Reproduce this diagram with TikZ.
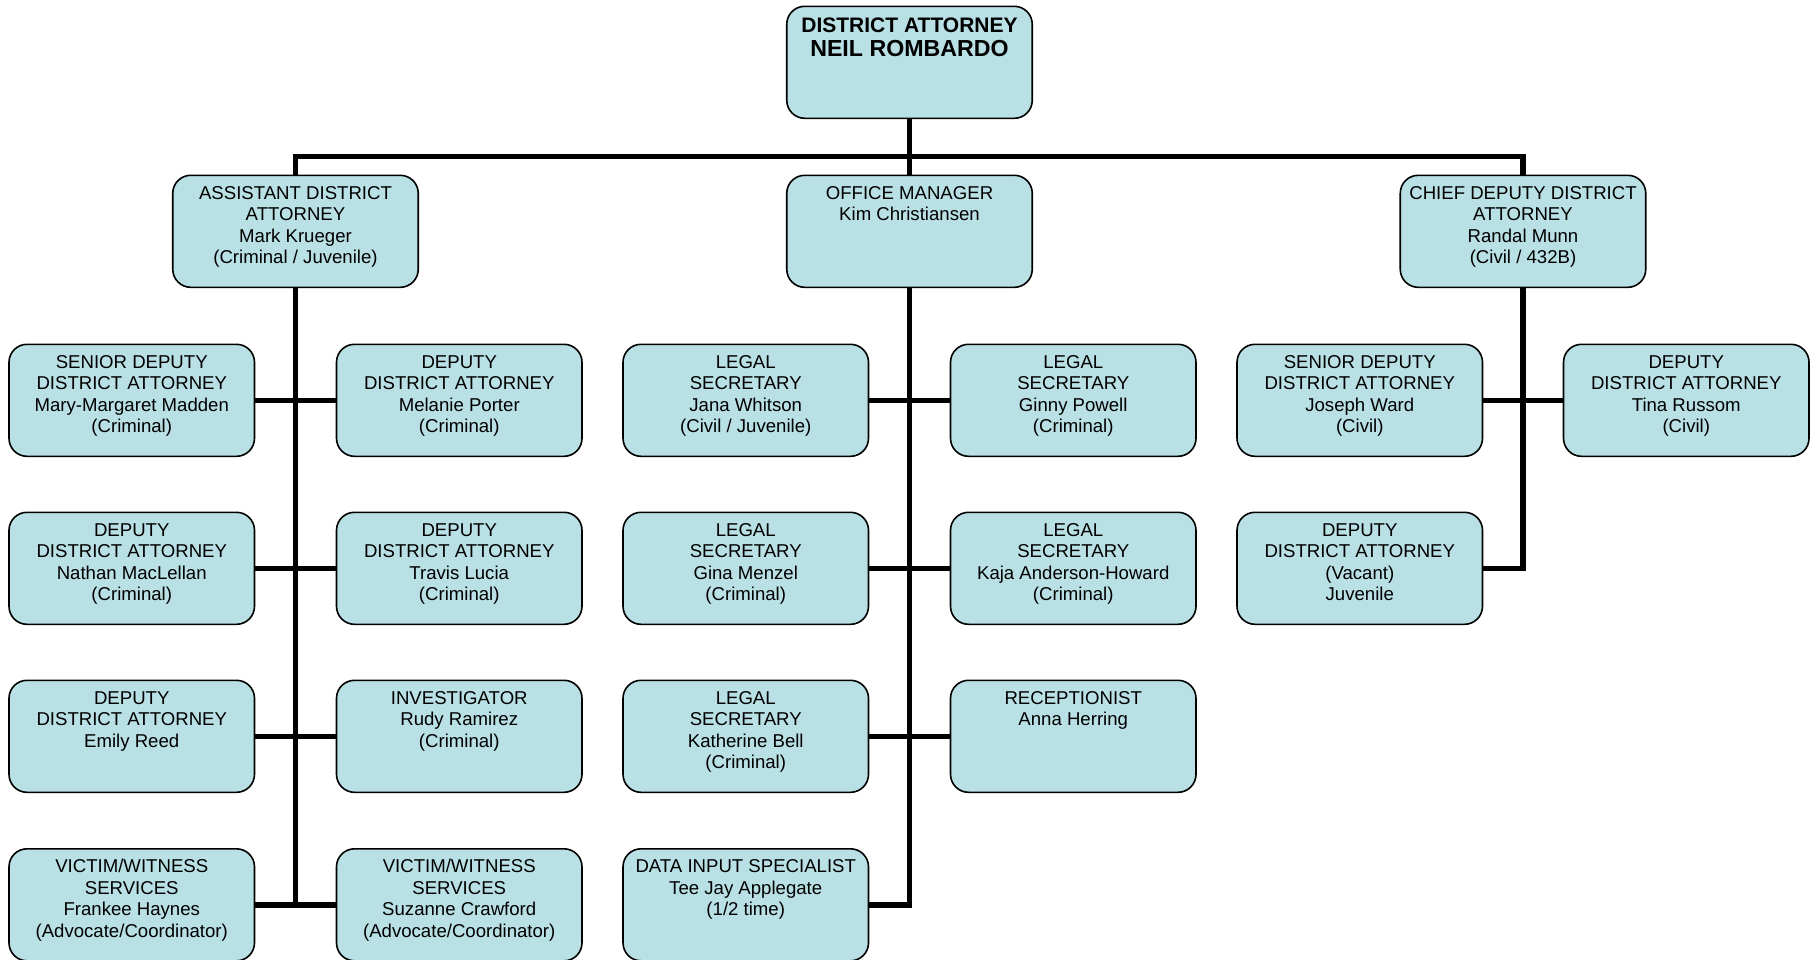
\documentclass[tikz,border=0pt]{standalone}
\usepackage{fontspec}
\setmainfont{Liberation Sans}
\usepackage{tikz}
\usetikzlibrary{positioning}
\definecolor{boxblue}{RGB}{185, 224, 228}

% top-aligned text inside a fixed-size box
\newcommand{\boxlines}[1]{\parbox[c][56pt][t]{122.75pt}{\centering\rule{0pt}{12pt}#1\par}}

\begin{document}
\begin{tikzpicture}[x=0.5pt, y=-0.5pt,
  staffbox/.style={draw=black, line width=0.8pt, fill=boxblue, rounded corners=9pt, inner sep=0pt, anchor=north,
    minimum width=122.75pt, minimum height=56pt, font=\fontsize{9.3}{10.75}\selectfont},
  link/.style={draw=black, line width=2.8pt, line join=miter}]

  \useasboundingbox (0,0) rectangle (1818,959);

  % District attorney and the three heads
  \node[staffbox] (da) at (909.5,5.5) {\parbox[c][56pt][t]{122.75pt}{\centering\bfseries
    \fontsize{10.5}{11.7}\selectfont\rule{0pt}{13.3pt}DISTRICT ATTORNEY\\
    \fontsize{11.6}{11.7}\selectfont NEIL ROMBARDO\par}};

  \node[staffbox] (ada) at (295.5,174.5) {\boxlines{ASSISTANT DISTRICT\\ATTORNEY\\Mark Krueger\\(Criminal / Juvenile)}};
  \node[staffbox] (om) at (909.5,174.5) {\boxlines{OFFICE MANAGER\\Kim Christiansen}};
  \node[staffbox] (cdda) at (1523,174.5) {\boxlines{CHIEF DEPUTY DISTRICT\\ATTORNEY\\Randal Munn\\(Civil / 432B)}};

  % Criminal side
  \node[staffbox] (la1) at (131.75,343.5) {\boxlines{SENIOR DEPUTY\\DISTRICT ATTORNEY\\Mary-Margaret Madden\\(Criminal)}};
  \node[staffbox] (lb1) at (459.25,343.5) {\boxlines{DEPUTY\\DISTRICT ATTORNEY\\Melanie Porter\\(Criminal)}};
  \node[staffbox] (la2) at (131.75,511.5) {\boxlines{DEPUTY\\DISTRICT ATTORNEY\\Nathan MacLellan\\(Criminal)}};
  \node[staffbox] (lb2) at (459.25,511.5) {\boxlines{DEPUTY\\DISTRICT ATTORNEY\\Travis Lucia\\(Criminal)}};
  \node[staffbox] (la3) at (131.75,679.5) {\boxlines{DEPUTY\\DISTRICT ATTORNEY\\Emily Reed}};
  \node[staffbox] (lb3) at (459.25,679.5) {\boxlines{INVESTIGATOR\\Rudy Ramirez\\(Criminal)}};
  \node[staffbox] (la4) at (131.75,848) {\boxlines{VICTIM/WITNESS\\SERVICES\\Frankee Haynes\\(Advocate/Coordinator)}};
  \node[staffbox] (lb4) at (459.25,848) {\boxlines{VICTIM/WITNESS\\SERVICES\\Suzanne Crawford\\(Advocate/Coordinator)}};

  % Office staff
  \node[staffbox] (ma1) at (745.75,343.5) {\boxlines{LEGAL\\SECRETARY\\Jana Whitson\\(Civil / Juvenile)}};
  \node[staffbox] (mb1) at (1073.25,343.5) {\boxlines{LEGAL\\SECRETARY\\Ginny Powell\\(Criminal)}};
  \node[staffbox] (ma2) at (745.75,511.5) {\boxlines{LEGAL\\SECRETARY\\Gina Menzel\\(Criminal)}};
  \node[staffbox] (mb2) at (1073.25,511.5) {\boxlines{LEGAL\\SECRETARY\\Kaja Anderson-Howard\\(Criminal)}};
  \node[staffbox] (ma3) at (745.75,679.5) {\boxlines{LEGAL\\SECRETARY\\Katherine Bell\\(Criminal)}};
  \node[staffbox] (mb3) at (1073.25,679.5) {\boxlines{RECEPTIONIST\\Anna Herring}};
  \node[staffbox] (ma4) at (745.75,848) {\boxlines{DATA INPUT SPECIALIST\\Tee Jay Applegate\\(1/2 time)}};

  % Civil side
  \node[staffbox] (ra1) at (1359.75,343.5) {\boxlines{SENIOR DEPUTY\\DISTRICT ATTORNEY\\Joseph Ward\\(Civil)}};
  \node[staffbox] (rb1) at (1686.25,343.5) {\boxlines{DEPUTY\\DISTRICT ATTORNEY\\Tina Russom\\(Civil)}};
  \node[staffbox] (ra2) at (1359.75,511.5) {\boxlines{DEPUTY\\DISTRICT ATTORNEY\\(Vacant)\\Juvenile}};

  % Connectors
  \coordinate (bus) at (909.5,156.5);
  \draw[link] (da.south) -- (om.north);
  \draw[link] (ada.north) |- (bus) -| (cdda.north);

  \draw[link] (ada.south) -- (ada.south |- la4.east);
  \foreach \r in {1,...,4} \draw[link] (la\r.east) -- (lb\r.west);

  \foreach \r in {1,2,3} \draw[link] (ma\r.east) -- (mb\r.west);
  \draw[link] (om.south) |- (ma4.east);

  \draw[link] (ra1.east) -- (rb1.west);
  \draw[link] (cdda.south) |- (ra2.east);
\end{tikzpicture}
\end{document}
